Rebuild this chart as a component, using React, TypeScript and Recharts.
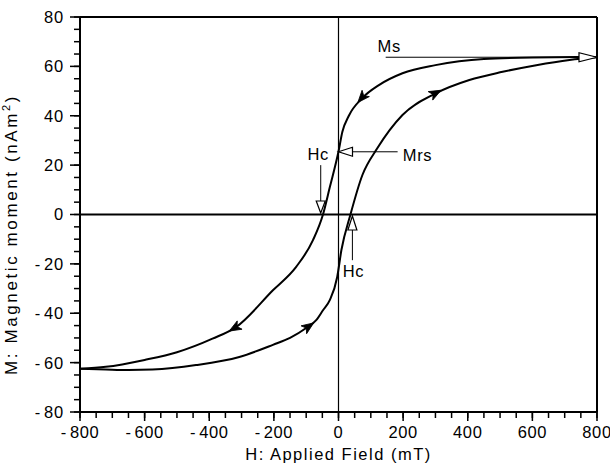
import React from 'react';
import { ComposedChart, Line, XAxis, YAxis, ReferenceLine, ReferenceDot } from 'recharts';

// ---- data ----
// Descending branch (field going from +800 to -800), listed by increasing H
const upperH = [-800, -720, -600, -500, -390, -317, -203, -131, -79, -48, -27, 0, 12, 32, 74, 125, 198, 300, 450, 600, 800];
const upperM = [-62.5, -61.7, -58.9, -55.8, -50.3, -45.6, -30.7, -21.2, -10.4, 0, 11, 25.5, 33.5, 40, 47.2, 52.4, 57.2, 60.5, 63, 63.6, 63.8];
// Ascending branch (field going from -800 to +800)
const lowerH = [-800, -720, -650, -576, -441, -307, -203, -150, -100, -69, -48, -27, -4, 9, 37, 74, 120, 198, 301, 405, 508, 612, 715, 800];
const lowerM = [-62.5, -62.8, -63, -62.8, -61, -57.7, -52.8, -50, -46, -42.8, -38.8, -34.7, -25.3, -14.4, 0, 16, 26.8, 40.3, 49.1, 54.5, 57.8, 60.5, 62.6, 63.7];

// tick labels
const xMajor = [-800, -600, -400, -200, 0, 200, 400, 600, 800];
const xLabels = ['-800', '-600', '-400', '-200', '0', '200', '400', '600', '800'];
const yMajor = [-80, -60, -40, -20, 0, 20, 40, 60, 80];
const yLabels = ['-80', '-60', '-40', '-20', '0', '20', '40', '60', '80'];

// direction arrows on the curves
const dirH = [72, 301, -322, -92];
const dirM = [47.2, 49.2, -46, -45.3];
const dirAngle = [131, -28, 150, -35];

// annotation arrows (open heads)
const annFromH = [146, 183, -55, 43];
const annFromM = [63.7, 25.4, 20, -18.5];
const annToH = [800, 0, -55, 43];
const annToM = [63.7, 25.4, 0.6, -0.6];
const annHead = [18, 14, 12, 14];

// annotation texts
const annText = ['Ms', 'Mrs', 'Hc', 'Hc'];
const annTextH = [121, 199, -96, 13];
const annTextM = [68.2, 24, 24.5, -23];

const upper = upperH.map((h, i) => ({ h, m: upperM[i] }));
const lower = lowerH.map((h, i) => ({ h, m: lowerM[i] }));

const xTicks: number[] = [];
for (let v = -800; v <= 800; v += 50) xTicks.push(v);
const yTicks: number[] = [];
for (let v = -80; v <= 80; v += 5) yTicks.push(v);

const FONT = "'Liberation Sans', Arial, sans-serif";
const AXIS = { stroke: '#000', strokeWidth: 2 };
const TICKLINE = { stroke: '#000', strokeWidth: 1.5 };

const tickText = (label: string) => {
  if (label.startsWith('-')) {
    return (
      <>
        -<tspan dx={3}>{label.slice(1)}</tspan>
      </>
    );
  }
  return label;
};

// labels (and the extra length of the major ticks); the library draws the tick lines
const BottomTick = (p: any) => {
  const x = Number(p.x);
  const y = Number(p.y); // = axis + tickSize
  const idx = xMajor.indexOf(p.payload.value);
  if (idx < 0) return <g />;
  return (
    <g>
      <rect x={x - 0.75} y={y - 6} width={1.5} height={9} fill="#000" />
      <text x={x} y={y + 20} textAnchor="middle" fontSize={16.5} letterSpacing={0.6} fill="#000" fontFamily={FONT}>
        {tickText(xLabels[idx])}
      </text>
    </g>
  );
};

const TopTick = (p: any) => {
  const x = Number(p.x);
  const y = Number(p.y); // = axis - tickSize
  const major = xMajor.indexOf(p.payload.value) >= 0;
  if (!major) return <g />;
  return <rect x={x - 0.75} y={y - 5} width={1.5} height={10} fill="#000" />;
};

const LeftTick = (p: any) => {
  const x = Number(p.x);
  const y = Number(p.y); // = axis - tickSize
  const idx = yMajor.indexOf(p.payload.value);
  if (idx < 0) return <g />;
  return (
    <g>
      <rect x={x - 4} y={y - 0.75} width={11} height={1.5} fill="#000" />
      <text x={x - 10} y={y} dy="0.36em" textAnchor="end" fontSize={16.5} letterSpacing={0.8} fill="#000" fontFamily={FONT}>
        {tickText(yLabels[idx])}
      </text>
    </g>
  );
};

const RightTick = (p: any) => {
  const x = Number(p.x);
  const y = Number(p.y); // = axis + tickSize
  const major = yMajor.indexOf(p.payload.value) >= 0;
  if (!major) return <g />;
  return <rect x={x - 5} y={y - 0.75} width={8} height={1.5} fill="#000" />;
};

const openArrow = (len: number) => (p: any) => {
  const { x1, y1, x2, y2 } = p;
  const ang = Math.atan2(y2 - y1, x2 - x1);
  const w = 4.5;
  const bx = x2 - len * Math.cos(ang);
  const by = y2 - len * Math.sin(ang);
  const px = -Math.sin(ang) * w;
  const py = Math.cos(ang) * w;
  return (
    <g>
      <line x1={x1} y1={y1} x2={bx} y2={by} stroke="#000" strokeWidth={1} />
      <polygon
        points={`${x2},${y2} ${bx + px},${by + py} ${bx - px},${by - py}`}
        fill="#fff"
        stroke="#000"
        strokeWidth={1.2}
      />
    </g>
  );
};

const dirArrow = (angle: number) => (p: any) => {
  const { cx, cy } = p;
  return (
    <path
      d="M6,0 L-6,-4.8 L-3,0 L-6,4.8 Z"
      transform={`translate(${cx},${cy}) rotate(${angle})`}
      fill="#000"
      stroke="#000"
      strokeWidth={0.8}
    />
  );
};

const textShape = (t: string) => (p: any) => {
  const { cx, cy } = p;
  return (
    <text x={cx} y={cy} dy="0.36em" fontSize={16.5} letterSpacing={0.6} fill="#000" fontFamily={FONT}>
      {t}
    </text>
  );
};

const XTitle = (p: any) => {
  const vb = p.viewBox;
  return (
    <text x={vb.x + vb.width / 2} y={vb.y + 48} textAnchor="middle" fontSize={16.5} letterSpacing={1.5} fill="#000" fontFamily={FONT}>
      H: Applied Field (mT)
    </text>
  );
};

const YTitle = (p: any) => {
  const vb = p.viewBox;
  const cx = vb.x + 17;
  const cy = vb.y + vb.height / 2 + 20;
  return (
    <text
      x={cx}
      y={cy}
      transform={`rotate(-90, ${cx}, ${cy})`}
      textAnchor="middle"
      fontSize={17}
      letterSpacing={2.6}
      fill="#000"
      fontFamily={FONT}
    >
      M: Magnetic moment (nAm
      <tspan dy={-7} fontSize={11}>2</tspan>
      <tspan dy={7}>)</tspan>
    </text>
  );
};

export default function App() {
  return (
    <div style={{ position: 'absolute', left: 0, top: 0 }}>
      <ComposedChart width={610} height={474} margin={{ top: 0, right: 0, bottom: 0, left: 0 }} style={{ fontFamily: FONT }}>
        <XAxis
          dataKey="h"
          type="number"
          domain={[-800, 800]}
          ticks={xTicks}
          interval={0}
          orientation="bottom"
          height={62}
          tickSize={6}
          tickMargin={0}
          tickLine={TICKLINE}
          axisLine={AXIS}
          tick={<BottomTick />}
          label={{ content: <XTitle /> }}
        />
        <XAxis
          xAxisId="top"
          type="number"
          domain={[-800, 800]}
          ticks={xTicks}
          interval={0}
          orientation="top"
          height={17}
          tickSize={5}
          tickMargin={0}
          tickLine={TICKLINE}
          tick={<TopTick />}
          axisLine={AXIS}
        />
        <YAxis
          type="number"
          domain={[-80, 80]}
          ticks={yTicks}
          interval={0}
          width={80}
          tickSize={6}
          tickMargin={0}
          tickLine={TICKLINE}
          axisLine={AXIS}
          tick={<LeftTick />}
          label={{ content: <YTitle /> }}
        />
        <YAxis
          yAxisId="right"
          orientation="right"
          type="number"
          domain={[-80, 80]}
          ticks={yTicks}
          interval={0}
          width={13}
          tickSize={5}
          tickMargin={0}
          tickLine={TICKLINE}
          tick={<RightTick />}
          axisLine={AXIS}
        />
        <ReferenceLine y={0} stroke="#000" strokeWidth={2} />
        <ReferenceLine x={0} stroke="#000" strokeWidth={1.2} />
        <Line data={upper} dataKey="m" type="monotone" stroke="#000" strokeWidth={2} dot={false} isAnimationActive={false} />
        <Line data={lower} dataKey="m" type="monotone" stroke="#000" strokeWidth={2} dot={false} isAnimationActive={false} />
        {annFromH.map((h, i) => (
          <ReferenceLine
            key={'a' + i}
            segment={[
              { x: h, y: annFromM[i] },
              { x: annToH[i], y: annToM[i] },
            ]}
            shape={openArrow(annHead[i])}
            ifOverflow="visible"
          />
        ))}
        {dirH.map((h, i) => (
          <ReferenceDot key={'d' + i} x={h} y={dirM[i]} r={1} shape={dirArrow(dirAngle[i])} ifOverflow="visible" />
        ))}
        {annText.map((t, i) => (
          <ReferenceDot key={'t' + i} x={annTextH[i]} y={annTextM[i]} r={1} shape={textShape(t)} ifOverflow="visible" />
        ))}
      </ComposedChart>
    </div>
  );
}
